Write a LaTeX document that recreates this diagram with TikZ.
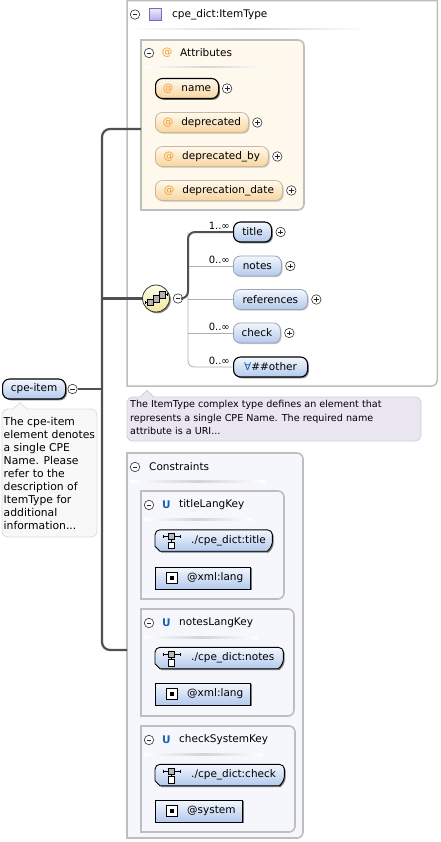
\documentclass[tikz,border=0pt]{standalone}
\usepackage{fontspec}
\setmainfont{DejaVu Sans}
\usetikzlibrary{shadows}

% palette
\definecolor{boxgray}{HTML}{BEBEBE}
\definecolor{attrbg}{HTML}{FFF8EC}
\definecolor{consbg}{HTML}{F6F7FC}
\definecolor{eltop}{HTML}{F3F7FE}
\definecolor{elbot}{HTML}{B3C9EC}
\definecolor{attop}{HTML}{FFF9EE}
\definecolor{atbot}{HTML}{F8D59E}
\definecolor{atorange}{HTML}{EE9A2A}
\definecolor{atedge}{HTML}{C8B8A0}
\definecolor{optgray}{HTML}{9AA4B4}
\definecolor{spinecol}{HTML}{505050}
\definecolor{branchcol}{HTML}{AFAFAF}
\definecolor{notebg}{HTML}{EAE6F1}
\definecolor{noteedge}{HTML}{D0CCDA}
\definecolor{docbg}{HTML}{F8F8F8}
\definecolor{docedge}{HTML}{DDDDDD}
\definecolor{ublue}{HTML}{1A5FB4}
\definecolor{seqtop}{HTML}{FFFEEA}
\definecolor{seqbot}{HTML}{F0E6A0}
\definecolor{purptop}{HTML}{EEEAFB}
\definecolor{purpbot}{HTML}{B8AAE6}
\definecolor{purpedge}{HTML}{7A68C0}
\definecolor{sepgray}{HTML}{D4D4D4}

\newcommand\lblfont{\fontsize{10.5}{12}\selectfont}
\newcommand\cardfont{\fontsize{10}{11}\selectfont}
\newcommand\annfont{\fontsize{9.6}{13.3}\selectfont}
\newcommand\docfont{\fontsize{10.8}{13}\selectfont}

% selector outline: rounded top corners, chamfered bottom corners
\newcommand\selshape[1]{%
  \shade[top color=eltop, bottom color=elbot, draw=black, line width=0.9pt, darkshadow]
    ([yshift=5pt]#1.south west) [rounded corners=5pt] -- (#1.north west) -- (#1.north east)
    -- ([yshift=5pt]#1.south east) [sharp corners] -- ([xshift=-5pt]#1.south east)
    -- ([xshift=5pt]#1.south west) -- cycle;
  \begin{scope}[shift={(#1.west)}, line width=0.7pt]
    \fill[gray!55] (13,-7) rectangle (19,-1);
    \draw (13,-7) rectangle (19,-1);
    \draw (8,-4) -- (13,-4) (19,-4) -- (25,-4);
    \draw (8,-5.5) -- (8,-2.5) (25,-5.5) -- (25,-2.5);
    \draw (16,-1) -- (16,1.5);
    \draw[fill=white] (13,1.5) rectangle (19,8);
  \end{scope}}
% field icon: framed black square
\newcommand\fieldicon[1]{%
  \begin{scope}[shift={(#1.west)}]
    \draw[fill=white, line width=0.8pt] (11,-5.5) rectangle (22,5.5);
    \fill (14.5,-2) rectangle (18.5,2);
  \end{scope}}

\begin{document}
\begin{tikzpicture}[x=1pt, y=-1pt,
  lbl/.style={font=\lblfont, inner sep=0pt},
  card/.style={font=\cardfont, inner sep=0pt, anchor=south east},
  sepline/.style={left color=white, right color=white, middle color=sepgray},
  softshadow/.style={drop shadow={shadow xshift=1.2pt, shadow yshift=-1.2pt, opacity=0.22, fill=black}},
  darkshadow/.style={drop shadow={shadow xshift=1.3pt, shadow yshift=-1.3pt, opacity=0.5, fill=black}},
  pmbase/.style={circle, draw=black!85, line width=0.55pt, fill=white, minimum size=9.5pt, inner sep=0pt},
  plusc/.style={pmbase, path picture={
      \draw[line width=0.6pt]
        ([xshift=-2.4pt]path picture bounding box.center) -- ([xshift=2.4pt]path picture bounding box.center)
        ([yshift=-2.4pt]path picture bounding box.center) -- ([yshift=2.4pt]path picture bounding box.center);}},
  minusc/.style={pmbase, path picture={
      \draw[line width=0.6pt]
        ([xshift=-2.4pt]path picture bounding box.center) -- ([xshift=2.4pt]path picture bounding box.center);}},
  elem/.style={anchor=west, rounded corners=7pt, top color=eltop, bottom color=elbot,
      minimum height=20pt, inner sep=0pt, font=\lblfont},
  reqel/.style={elem, draw=black, line width=1.1pt, darkshadow},
  optel/.style={elem, draw=optgray, line width=0.8pt, softshadow},
  attrel/.style={anchor=west, rounded corners=7pt, top color=attop, bottom color=atbot,
      minimum height=20pt, inner sep=0pt, font=\lblfont, draw=atedge, line width=0.8pt, softshadow},
  reqattr/.style={attrel, draw=black, line width=1.1pt, darkshadow},
  frame/.style={draw=boxgray, line width=1.6pt},
  spine/.style={draw=spinecol, line width=2.2pt},
  branch/.style={draw=branchcol, line width=0.8pt},
  selnode/.style={anchor=west, minimum height=21pt, inner sep=0pt},
  fieldnode/.style={anchor=west, minimum height=22pt, inner sep=0pt, draw=black, line width=0.9pt,
      top color=eltop, bottom color=elbot, darkshadow},
  ukey/.style={font=\lblfont\bfseries, text=ublue, inner sep=0pt},
  atsign/.style={text=atorange}
]
\useasboundingbox (0,0) rectangle (440,842);
\fill[white] (0,0) rectangle (440,842);

% ===== complex type frame =====
\draw[draw=boxgray, line width=1.5pt, fill=white]
  (127,386) -- (127,0.75) -- (437.25,0.75) [rounded corners=6pt] -- (437.25,386) [sharp corners] -- cycle;
\node[minusc] (mType) at (135,14.5) {};
\node[draw=purpedge, line width=0.8pt, top color=purptop, bottom color=purpbot,
      minimum size=12pt, inner sep=0pt] (typeIcon) at (155.5,14.5) {};
\node[lbl, anchor=west] (typeName) at (172,14.5) {cpe\_dict:ItemType};
\shade[sepline] (130,28.3) rectangle (368,29.8);

% ===== attributes group =====
\draw[frame, fill=attrbg]
  (141,210) -- (141,40) [rounded corners=6pt] -- (304,40) -- (304,210) [sharp corners] -- cycle;
\node[minusc] (mAttr) at (149,53) {};
\node[lbl, atsign] (attrAt) at (167,53) {@};
\node[lbl, anchor=west] (attrHead) at (180,53) {Attributes};
\shade[sepline] (144,66.5) rectangle (268,68);

\node[reqattr, minimum width=63pt] (aName) at (155,88.5) {{\color{atorange}@}\hspace{8pt}name};
\node[attrel, minimum width=93pt] (aDep) at (155,122.5) {{\color{atorange}@}\hspace{8pt}deprecated};
\node[attrel, minimum width=113pt] (aDepBy) at (155,156.5) {{\color{atorange}@}\hspace{8pt}deprecated\_by};
\node[attrel, minimum width=127pt] (aDepDate) at (155,190.5) {{\color{atorange}@}\hspace{8pt}deprecation\_date};
\node[plusc] (pName) at ([xshift=8pt]aName.east) {};
\node[plusc] (pDep) at ([xshift=8.5pt]aDep.east) {};
\node[plusc] (pDepBy) at ([xshift=8.5pt]aDepBy.east) {};
\node[plusc] (pDepDate) at ([xshift=8.5pt]aDepDate.east) {};

% ===== sequence and its children =====
\node[circle, minimum size=27pt, inner sep=0pt, draw=black!80, line width=0.8pt,
      top color=seqtop, bottom color=seqbot, darkshadow] (seq) at (156,298.5) {};
\begin{scope}[shift={(seq.center)}, line width=0.6pt]
  \draw (-11,4) -- (-6,4) (-11,2.5) -- (-11,5.5);
  \draw (6,-4) -- (11,-4) (11,-5.5) -- (11,-2.5);
  \draw[fill=gray!60] (-9,0.5) rectangle (-3,7);
  \draw[fill=gray!60] (-3,-3) rectangle (3,3.5);
  \draw[fill=gray!60] (3,-7) rectangle (9,-0.5);
\end{scope}
\node[minusc] (mSeq) at (178,298.5) {};
\coordinate (bus) at (188,298.5);

\node[reqel, minimum width=38pt] (eTitle) at (233,232) {title};
\node[optel, minimum width=48pt] (eNotes) at (233,266) {notes};
\node[optel, minimum width=74pt] (eRefs) at (233,299.5) {references};
\node[optel, minimum width=47pt] (eCheck) at (233,333) {check};
\node[reqel, minimum width=74pt] (eOther) at (233,367) {{\color{ublue}∀}\#\#other};

\draw[branch, rounded corners=6pt] (bus |- eTitle.west) -- (bus |- eOther.west) -- (eOther.west);
\draw[branch] (bus |- eNotes.west) -- (eNotes.west);
\draw[branch] (bus |- eRefs.west) -- (eRefs.west);
\draw[branch] (bus |- eCheck.west) -- (eCheck.west);
\draw[spine, line width=2pt, rounded corners=7pt] (mSeq.east) -- (bus) -- (bus |- eTitle.west) -- (eTitle.west);

\node[card] (cTitle) at ([xshift=-3pt, yshift=2.5pt]eTitle.west) {1..∞};
\node[card] (cNotes) at ([xshift=-3pt, yshift=2.5pt]eNotes.west) {0..∞};
\node[card] (cCheck) at ([xshift=-3pt, yshift=2.5pt]eCheck.west) {0..∞};
\node[card] (cOther) at ([xshift=-3pt, yshift=2.5pt]eOther.west) {0..∞};

\node[plusc] (pTitle) at ([xshift=8.5pt]eTitle.east) {};
\node[plusc] (pNotes) at ([xshift=8.5pt]eNotes.east) {};
\node[plusc] (pRefs) at ([xshift=8.5pt]eRefs.east) {};
\node[plusc] (pCheck) at ([xshift=8.5pt]eCheck.east) {};

% ===== type documentation =====
\draw[draw=noteedge, line width=0.8pt, fill=notebg]
  (200,397) [rounded corners=6pt] -- (421,397) -- (421,441) -- (127,441) -- (127,397)
  [sharp corners] -- (140,397) -- (147,390.5) -- (154,397) -- cycle;
\node[anchor=north west, align=left, font=\annfont, inner sep=0pt] (typeDoc) at (130,400.5)
  {The ItemType complex type defines an element that\\
   represents a single CPE Name. The required name\\
   attribute is a URI...};

% ===== the element itself =====
\node[reqel, minimum width=63pt] (cpe) at (2,389) {cpe-item};
\node[minusc] (mCpe) at (72.5,389) {};
\draw[draw=docedge, line width=0.8pt, fill=docbg]
  (60,409) [rounded corners=6pt] -- (97,409) -- (97,537) -- (2,537) -- (2,409)
  [sharp corners] -- (13,409) -- (20,402.5) -- (27,409) -- cycle;
\node[anchor=north west, align=left, font=\docfont, inner sep=0pt] (cpeDoc) at (3.5,417.3)
  {The cpe-item\\element denotes\\a single CPE\\Name. Please\\refer to the\\description of\\ItemType for\\additional\\information...};

% ===== identity constraints =====
\draw[frame, fill=consbg]
  (127,838) -- (127,453) [rounded corners=6pt] -- (303,453) -- (303,838) [sharp corners] -- cycle;
\node[minusc] (mCons) at (135,467) {};
\node[lbl, anchor=west] (consHead) at (149,467) {Constraints};
\shade[sepline] (130,480.5) rectangle (265,482);

% titleLangKey
\draw[frame, fill=consbg]
  (141,599) -- (141,491) [rounded corners=6pt] -- (284,491) -- (284,599) [sharp corners] -- cycle;
\node[minusc] (mK1) at (149,505) {};
\node[ukey] (uK1) at (166.5,505) {U};
\node[lbl, anchor=west] (nK1) at (179,505) {titleLangKey};
\shade[sepline] (144,518.5) rectangle (252,520);
\node[selnode, minimum width=117pt] (sel1) at (155,540.5) {};
\selshape{sel1}
\node[lbl, anchor=west] (tSel1) at ([xshift=36pt]sel1.west) {./cpe\_dict:title};
\node[fieldnode, minimum width=95pt] (fld1) at (155,578) {};
\fieldicon{fld1}
\node[lbl, anchor=west] (tFld1) at ([xshift=32pt]fld1.west) {@xml:lang};

% notesLangKey
\draw[frame, fill=consbg]
  (141,716) -- (141,609) [rounded corners=6pt] -- (294,609) -- (294,716) [sharp corners] -- cycle;
\node[minusc] (mK2) at (149,623) {};
\node[ukey] (uK2) at (166.5,623) {U};
\node[lbl, anchor=west] (nK2) at (179,623) {notesLangKey};
\shade[sepline] (144,636.5) rectangle (258,638);
\node[selnode, minimum width=128pt] (sel2) at (155,658) {};
\selshape{sel2}
\node[lbl, anchor=west] (tSel2) at ([xshift=36pt]sel2.west) {./cpe\_dict:notes};
\node[fieldnode, minimum width=95pt] (fld2) at (155,694) {};
\fieldicon{fld2}
\node[lbl, anchor=west] (tFld2) at ([xshift=32pt]fld2.west) {@xml:lang};

% checkSystemKey
\draw[frame, fill=consbg]
  (141,832) -- (141,726) [rounded corners=6pt] -- (295,726) -- (295,832) [sharp corners] -- cycle;
\node[minusc] (mK3) at (149,740) {};
\node[ukey] (uK3) at (166.5,740) {U};
\node[lbl, anchor=west] (nK3) at (179,740) {checkSystemKey};
\shade[sepline] (144,753.5) rectangle (262,755);
\node[selnode, minimum width=129pt] (sel3) at (155,775) {};
\selshape{sel3}
\node[lbl, anchor=west] (tSel3) at ([xshift=36pt]sel3.west) {./cpe\_dict:check};
\node[fieldnode, minimum width=87pt] (fld3) at (155,811) {};
\fieldicon{fld3}
\node[lbl, anchor=west] (tFld3) at ([xshift=32pt]fld3.west) {@system};

% ===== connectors from the element =====
\coordinate (jn) at (102,389);
\coordinate (attrIn) at (141,129);
\coordinate (consIn) at (127,650);
\draw[spine] (mCpe.east) -- (jn);
\draw[spine, rounded corners=8pt] (jn) |- (attrIn);
\draw[spine, rounded corners=8pt] (jn) |- (consIn);
\draw[spine] (jn |- seq.west) -- (seq.west);
\end{tikzpicture}
\end{document}
